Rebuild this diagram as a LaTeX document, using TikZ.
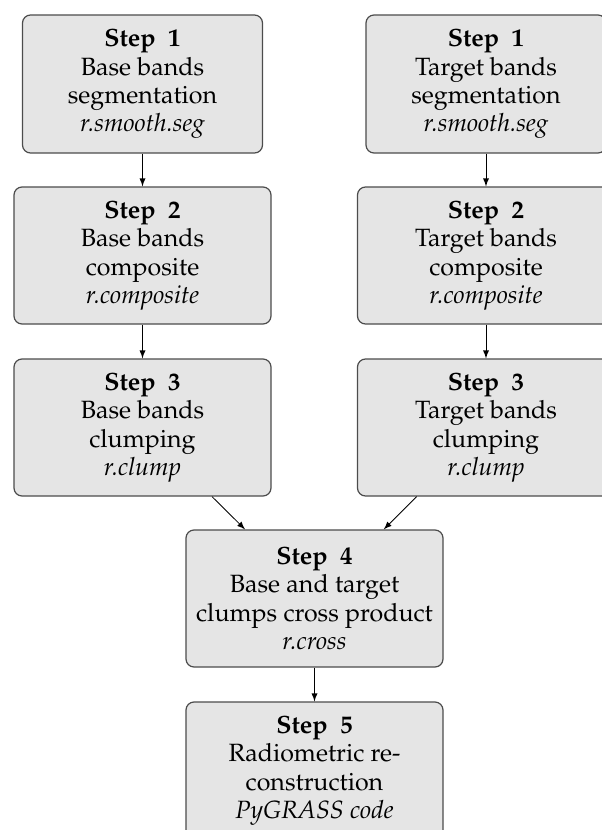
\documentclass[tikz,border=0pt]{standalone}
\usepackage[T1]{fontenc}
\usepackage{mathpazo}
\usepackage{xcolor}
\usepackage{tikz}
\usetikzlibrary{arrows}
\newcommand{\stepno}[1]{\textbf{Step\ \ #1}}
\tikzset{
    stepbox/.style={draw=black!70, line width=0.6pt, fill=gray!20,
        rounded corners=4pt, align=center, inner sep=0pt,
        font=\fontsize{12.5}{14.2}\selectfont},
    narrowbox/.style={stepbox, minimum width=120pt, minimum height=69pt},
    widebox/.style={stepbox, minimum width=128.5pt, minimum height=68.5pt},
    flow/.style={->, >=latex, line width=0.4pt}
}
\begin{document}
\begin{tikzpicture}[x=0.5pt, y=-0.5pt]
        \useasboundingbox (0,0) rectangle (601,830);

        % base bands column
        \node[narrowbox] (base1) at (142.5,84) {\stepno{1}\\Base bands\\segmentation\\\textit{r.smooth.seg}};
        \node[widebox] (base2) at (142.5,255.5) {\stepno{2}\\Base bands\\composite\\\textit{r.composite}};
        \node[widebox] (base3) at (142.5,427.5) {\stepno{3}\\Base bands\\clumping\\\textit{r.clump}};

        % target bands column
        \node[narrowbox] (target1) at (486,84) {\stepno{1}\\Target bands\\segmentation\\\textit{r.smooth.seg}};
        \node[widebox] (target2) at (486,255.5) {\stepno{2}\\Target bands\\composite\\\textit{r.composite}};
        \node[widebox] (target3) at (486,427.5) {\stepno{3}\\Target bands\\clumping\\\textit{r.clump}};

        % joined steps
        \node[widebox] (cross) at (314.5,598.5) {\stepno{4}\\Base and target\\clumps cross product\\\textit{r.cross}};
        \node[widebox] (recon) at (314.5,770.5) {\stepno{5}\\Radiometric re-\\construction\\\textit{PyGRASS code}};

        % arrows
        \draw[flow] (base1) -- (base2);
        \draw[flow] (base2) -- (base3);
        \draw[flow] (target1) -- (target2);
        \draw[flow] (target2) -- (target3);
        \draw[flow] (base3) -- (cross);
        \draw[flow] (target3) -- (cross);
        \draw[flow] (cross) -- (recon);

    \end{tikzpicture}
\end{document}
